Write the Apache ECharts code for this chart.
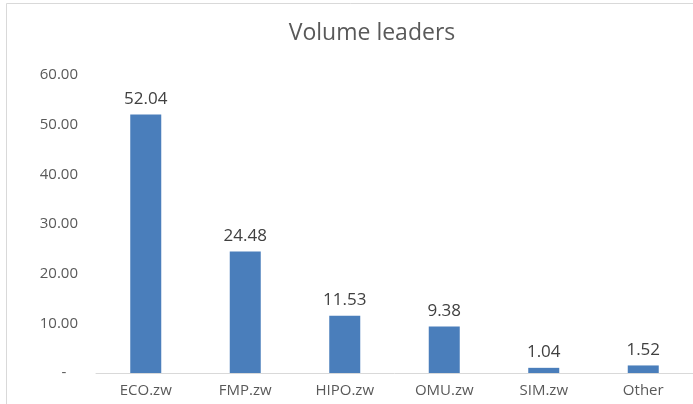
<!DOCTYPE html>
<html>
<head>
<meta charset="utf-8">
<script src="https://cdn.jsdelivr.net/npm/echarts@6/dist/echarts.min.js"></script>
<style>
  html, body { margin: 0; padding: 0; background: #fff; }
  #main { width: 693px; height: 404px; }
</style>
</head>
<body>
<div id="main"></div>
<script>
var categories = ['ECO.zw', 'FMP.zw', 'HIPO.zw', 'OMU.zw', 'SIM.zw', 'Other'];
var volumes = [52.04, 24.48, 11.53, 9.38, 1.04, 1.52];

var chart = echarts.init(document.getElementById('main'));
var option = {
    animation: false,
    backgroundColor: '#fff',
    textStyle: { fontFamily: '"Open Sans", "DejaVu Sans", sans-serif' },
    title: {
        text: 'Volume leaders',
        left: 367,
        top: 17,
        textAlign: 'center',
        textStyle: { color: '#595959', fontSize: 23, fontWeight: 'normal' }
    },
    graphic: [{
        type: 'rect',
        shape: { x: 6.5, y: 3.5, width: 760, height: 430 },
        style: { fill: 'none', stroke: '#d9d9d9', lineWidth: 1 },
        silent: true
    }],
    grid: { left: 96, top: 75, width: 600, bottom: 31 },
    xAxis: {
        type: 'category',
        data: categories,
        axisLine: { lineStyle: { color: '#d9d9d9' } },
        axisTick: { show: false },
        axisLabel: { color: '#595959', fontSize: 15, margin: 10 }
    },
    yAxis: {
        type: 'value',
        min: 0,
        max: 60,
        interval: 10,
        axisLine: { show: false },
        axisTick: { show: false },
        splitLine: { show: false },
        axisLabel: {
            color: '#595959',
            fontSize: 15,
            margin: 18,
            formatter: function (v) { return v === 0 ? '-   ' : v.toFixed(2); }
        }
    },
    series: [{
        type: 'bar',
        data: volumes,
        barWidth: 31,
        itemStyle: { color: '#4a7ebb' },
        label: {
            show: true,
            position: 'top',
            distance: 7,
            color: '#404040',
            fontSize: 17,
            formatter: function (p) { return p.value.toFixed(2); }
        }
    }]
};
chart.setOption(option);
</script>
</body>
</html>
